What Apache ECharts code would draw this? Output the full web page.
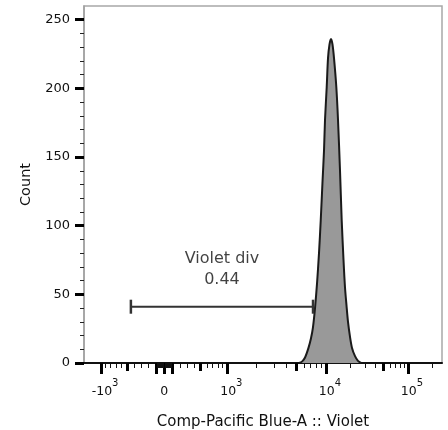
<!DOCTYPE html>
<html><head><meta charset="utf-8">
<script src="https://cdn.jsdelivr.net/npm/echarts@6/dist/echarts.min.js"></script>
<style>html,body{margin:0;padding:0;background:#fff}#c{width:448px;height:430px}</style>
</head><body><div id="c"></div>
<script>
// ---- data (fluorescence values on the x axis, counts on the y axis) ----
const histValues = [5350, 5730, 6150, 6660, 7060, 7390, 7750, 8120, 8500, 8850, 9220, 9550, 9770, 10200, 10580, 11030, 11510, 12000, 12520, 13360, 14010, 14820, 15540, 16350, 17050, 17780, 18550, 19630, 20760, 22590, 24550, 26730];
const histCounts = [0, 1, 4, 11, 18, 26, 40, 58, 80, 104, 132, 155, 177, 201, 222, 232, 236, 232, 222, 201, 177, 140, 104, 75, 55, 42, 30, 19, 11, 5, 1.5, 0];

const xMajorTicks = [-1000, 0, 1000, 10000, 100000];
const xMajorBase = ['-10', '0', '10', '10', '10'];
const xMajorExp = ['3', '', '3', '4', '5'];
const xHeavyTicks = [-1000, -100, 0, 100, 1000, 10000, 100000];
const xMediumTicks = [-500, 500, 5000, 50000];
const xMinorTicks = [-900, -800, -700, -600, -400, -300, -200, -90, -80, -70, -60, -50, -40, -30, -20, -10,
  10, 20, 30, 40, 50, 60, 70, 80, 90, 200, 300, 400, 600, 700, 800, 900,
  2000, 3000, 4000, 6000, 7000, 8000, 9000, 20000, 30000, 40000, 60000, 70000, 80000, 90000, 200000];
const yTicks = [0, 50, 100, 150, 200, 250];
const yMinorTicks = [10, 20, 30, 40, 60, 70, 80, 90, 110, 120, 130, 140, 160, 170, 180, 190, 210, 220, 230, 240];

const gateRange = [-450, 7400];
const gateCount = 41;
const gateName = 'Violet div';
const gateValue = '0.44';
const xTitle = 'Comp-Pacific Blue-A :: Violet';
const yTitle = 'Count';

// ---- biexponential-like display transform (value -> display units 0..1000) ----
const BX = {zero: 224, lin: 149, w: 676, d1: 398.6, dec1: 277.4, d2: 676, dec2: 229};
function biex(v) {
  const a = Math.abs(v), s = v < 0 ? -1 : 1;
  if (a <= 1000) return BX.zero + s * BX.lin * Math.asinh(a / BX.w);
  if (v < 0) return BX.zero - (BX.d1 - BX.zero) - BX.dec1 * Math.log10(a / 1000);
  if (a <= 10000) return BX.d1 + BX.dec1 * Math.log10(a / 1000);
  return BX.d2 + BX.dec2 * Math.log10(a / 10000);
}

const FONT = 'DejaVu Sans';
const TXT = '#111';
const majorPos = xMajorTicks.map(biex);
function xLabel(val) {
  let best = 0, bd = Infinity;
  majorPos.forEach((p, i) => { const d = Math.abs(p - val); if (d < bd) { bd = d; best = i; } });
  const e = xMajorExp[best];
  return e ? '{b|' + xMajorBase[best] + '}{s|' + e + '}' : '{z|' + xMajorBase[best] + '}';
}

const xBase = {type: 'value', min: 0, max: 1000, position: 'bottom', splitLine: {show: false},
  axisLabel: {show: false}, axisLine: {show: false}};

const chart = echarts.init(document.getElementById('c'), null, {renderer: 'canvas'});
chart.setOption({
  animation: false,
  backgroundColor: '#ffffff',
  grid: {left: 84, right: 6, top: 6, bottom: 67, show: true, borderColor: '#a8a8a8', borderWidth: 1.5,
    backgroundColor: 'transparent', containLabel: false, outerBoundsMode: 'none'},
  xAxis: [
    Object.assign({}, xBase, {
      name: xTitle, nameLocation: 'middle', nameGap: 52,
      nameTextStyle: {fontFamily: FONT, fontSize: 15, color: TXT},
      axisLine: {show: true, lineStyle: {color: '#111', width: 2}},
      axisTick: {show: true, customValues: xHeavyTicks.map(biex), length: 11, lineStyle: {color: '#000', width: 3}},
      axisLabel: {show: true, customValues: majorPos, formatter: xLabel, margin: 15,
        rich: {
          b: {fontFamily: FONT, fontSize: 12.5, color: TXT, padding: [7, 0, 0, 8]},
          z: {fontFamily: FONT, fontSize: 12.5, color: TXT, padding: [7, 0, 0, 0]},
          s: {fontFamily: FONT, fontSize: 10, color: TXT, verticalAlign: 'top'}
        }}
    }),
    Object.assign({}, xBase, {
      axisTick: {show: true, customValues: xMediumTicks.map(biex), length: 8, lineStyle: {color: '#000', width: 3}}
    }),
    Object.assign({}, xBase, {
      axisTick: {show: true, customValues: xMinorTicks.map(biex), length: 5, lineStyle: {color: '#111', width: 1}}
    })
  ],
  yAxis: [
    {type: 'value', min: 0, max: 260, position: 'left', splitLine: {show: false},
      name: yTitle, nameLocation: 'middle', nameGap: 50,
      nameTextStyle: {fontFamily: FONT, fontSize: 14.5, color: TXT},
      axisLine: {show: true, lineStyle: {color: '#a0a0a0', width: 1.5}},
      axisTick: {show: true, customValues: yTicks, length: 9, lineStyle: {color: '#000', width: 3}},
      axisLabel: {show: true, customValues: yTicks, margin: 14, fontFamily: FONT, fontSize: 13, color: TXT}},
    {type: 'value', min: 0, max: 260, position: 'left', splitLine: {show: false},
      axisLine: {show: false}, axisLabel: {show: false},
      axisTick: {show: true, customValues: yMinorTicks, length: 4, lineStyle: {color: '#222', width: 1}}}
  ],
  series: [
    {type: 'line', xAxisIndex: 0, yAxisIndex: 0,
      data: histValues.map((v, i) => [biex(v), histCounts[i]]),
      smooth: 0.3, symbol: 'none',
      lineStyle: {color: '#1a1a1a', width: 2},
      areaStyle: {color: '#999999', opacity: 1}, z: 3},
    {type: 'line', xAxisIndex: 0, yAxisIndex: 0,
      data: gateRange.map(v => [biex(v), gateCount]),
      symbol: 'rect', symbolSize: [2.5, 14], showSymbol: true,
      itemStyle: {color: '#333'}, lineStyle: {color: '#333', width: 2}, z: 4},
    {type: 'scatter', xAxisIndex: 0, yAxisIndex: 0,
      data: [[(biex(gateRange[0]) + biex(gateRange[1])) / 2, gateCount]],
      symbolSize: 0, z: 5,
      label: {show: true, position: 'top', distance: 16, formatter: gateName + '\n' + gateValue,
        fontFamily: FONT, fontSize: 16, lineHeight: 21, color: TXT, align: 'center'}}
  ]
});
</script></body></html>
